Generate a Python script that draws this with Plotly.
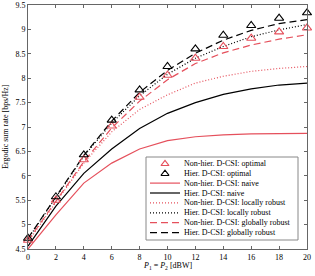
import plotly.graph_objects as go

power_dbw = [0, 2, 4, 6, 8, 10, 12, 14, 16, 18, 20]
nonhier_optimal = [4.68, 5.50, 6.33, 7.02, 7.61, 8.06, 8.41, 8.65, 8.82, 8.95, 9.03]
hier_optimal = [4.72, 5.57, 6.43, 7.14, 7.76, 8.24, 8.60, 8.88, 9.08, 9.23, 9.34]
nonhier_naive = [4.50, 5.20, 5.85, 6.26, 6.55, 6.72, 6.80, 6.84, 6.86, 6.87, 6.87]
hier_naive = [4.56, 5.38, 6.05, 6.55, 6.97, 7.28, 7.50, 7.67, 7.78, 7.86, 7.90]
nonhier_local = [4.65, 5.46, 6.26, 6.90, 7.36, 7.66, 7.90, 8.04, 8.14, 8.20, 8.24]
hier_local = [4.71, 5.56, 6.40, 7.08, 7.64, 8.08, 8.41, 8.65, 8.85, 8.99, 9.10]
nonhier_global = [4.67, 5.48, 6.29, 6.98, 7.53, 7.97, 8.30, 8.52, 8.68, 8.80, 8.89]
hier_global = [4.72, 5.57, 6.42, 7.12, 7.71, 8.16, 8.51, 8.78, 8.98, 9.12, 9.20]

legend_labels = [
    "Non-hier. D-CSI: optimal",
    "Hier. D-CSI: optimal",
    "Non-hier. D-CSI: naive",
    "Hier. D-CSI: naive",
    "Non-hier. D-CSI: locally robust",
    "Hier. D-CSI: locally robust",
    "Non-hier. D-CSI: globally robust",
    "Hier. D-CSI: globally robust",
]
x_ticks = list(range(0, 21, 2))
y_ticks = [4.5, 5, 5.5, 6, 6.5, 7, 7.5, 8, 8.5, 9, 9.5]
y_tick_text = ["4.5", "5", "5.5", "6", "6.5", "7", "7.5", "8", "8.5", "9", "9.5"]

RED = "#E5505C"
BLK = "#000000"
FONT = "Liberation Serif"

styles = [
    dict(mode="markers", color=RED, dash=None),
    dict(mode="markers", color=BLK, dash=None),
    dict(mode="lines", color=RED, dash="solid"),
    dict(mode="lines", color=BLK, dash="solid"),
    dict(mode="lines", color=RED, dash="1px,2px"),
    dict(mode="lines", color=BLK, dash="1px,2px"),
    dict(mode="lines", color=RED, dash="7px,4px"),
    dict(mode="lines", color=BLK, dash="7px,4px"),
]
series = [nonhier_optimal, hier_optimal, nonhier_naive, hier_naive,
          nonhier_local, hier_local, nonhier_global, hier_global]

fig = go.Figure()
draw_order = [2, 3, 4, 5, 6, 7, 0, 1]
for i in draw_order:
    st = styles[i]
    if st["mode"] == "markers":
        fig.add_trace(go.Scatter(x=power_dbw, y=series[i], mode="markers",
                                 marker=dict(symbol="triangle-up-open", size=8,
                                             color=st["color"], line=dict(width=1.1, color=st["color"])),
                                 showlegend=False, cliponaxis=False))
    else:
        fig.add_trace(go.Scatter(x=power_dbw, y=series[i], mode="lines",
                                 line=dict(color=st["color"], width=1.2, dash=st["dash"]),
                                 showlegend=False))

# manual legend on an overlay axis measured in pixels
L, R, T, B = 28, 307, 5, 249
box = dict(x0=146, x1=298, y0=157, y1=240)
row_y0, row_dy = 163.3, 9.9
for k, lab in enumerate(legend_labels):
    yy = row_y0 + k * row_dy
    st = styles[k]
    if st["mode"] == "markers":
        fig.add_trace(go.Scatter(x=[165], y=[yy + 0.5], xaxis="x2", yaxis="y2", mode="markers",
                                 marker=dict(symbol="triangle-up-open", size=7, color=st["color"],
                                             line=dict(width=1.1, color=st["color"])),
                                 showlegend=False, hoverinfo="skip"))
    else:
        fig.add_trace(go.Scatter(x=[150, 180], y=[yy, yy], xaxis="x2", yaxis="y2", mode="lines",
                                 line=dict(color=st["color"], width=1.2, dash=st["dash"]),
                                 showlegend=False, hoverinfo="skip"))
    fig.add_annotation(x=182, y=yy, xref="x2", yref="y2", text=lab, showarrow=False,
                       xanchor="left", yanchor="middle", font=dict(family=FONT, size=8, color="#000"))

fig.add_shape(type="rect", xref="x2", yref="y2", x0=box["x0"], x1=box["x1"], y0=box["y0"], y1=box["y1"],
              line=dict(color="#888", width=1), fillcolor="rgba(255,255,255,0)", layer="below")

# axis titles
fig.add_annotation(x=-23 / 279, y=0.5, xref="paper", yref="paper", text="Ergodic sum rate [bps/Hz]",
                   textangle=-90, showarrow=False, xanchor="center", yanchor="middle",
                   font=dict(family=FONT, size=8, color="#000"))
fig.add_annotation(x=0.5, y=-17 / 244, xref="paper", yref="paper",
                   text="<i>P</i><sub>1</sub> = <i>P</i><sub>2</sub> [dBW]",
                   showarrow=False, xanchor="center", yanchor="middle",
                   font=dict(family=FONT, size=8, color="#000"))

axis_common = dict(showgrid=False, zeroline=False, showline=True, linecolor="#666", linewidth=1,
                   mirror="allticks", ticks="inside", ticklen=3, tickcolor="#666", automargin=False,
                   tickfont=dict(family=FONT, size=8, color="#000"))

fig.update_layout(
    width=315, height=276,
    margin=dict(l=L, r=315 - R, t=T, b=276 - B, autoexpand=False),
    paper_bgcolor="white", plot_bgcolor="white",
    xaxis=dict(range=[0, 20], tickvals=x_ticks, **axis_common),
    yaxis=dict(range=[4.5, 9.5], tickvals=y_ticks, ticktext=y_tick_text, **axis_common),
    xaxis2=dict(range=[L, R], overlaying="x", visible=False, fixedrange=True),
    yaxis2=dict(range=[B, T], overlaying="y", visible=False, fixedrange=True),
    showlegend=False,
)

fig.write_html("out.html", config={"displayModeBar": False},
               post_script="document.body.style.margin='0px';document.body.style.overflow='hidden';")
